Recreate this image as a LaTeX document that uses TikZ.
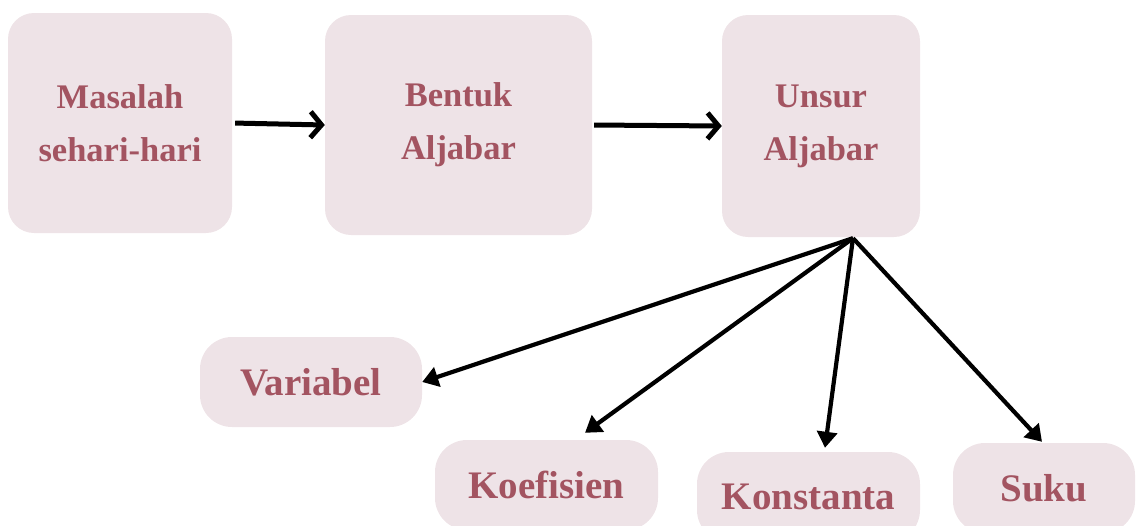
\documentclass[tikz,border=0pt]{standalone}
\usepackage{fontspec}
\setmainfont{Liberation Serif}
\usetikzlibrary{arrows.meta}
\definecolor{boxfill}{HTML}{EEE3E7}
\definecolor{boxtext}{HTML}{A35461}
\tikzset{
  bigbox/.style={fill=boxfill, draw=none, rounded corners=26pt, text=boxtext,
    font=\bfseries\fontsize{34.5}{53}\selectfont, align=center, inner sep=0pt},
  smallbox/.style={fill=boxfill, draw=none, rounded corners=32pt, text=boxtext,
    font=\bfseries\fontsize{39}{45}\selectfont, align=center, inner sep=0pt,
    minimum height=90pt},
  toparrow/.style={line width=5pt, -{Straight Barb[length=11pt,width=26pt,line width=5pt]}},
  fanarrow/.style={line width=4.2pt, -{Triangle[length=16pt,width=20pt]}}
}
\begin{document}
\begin{tikzpicture}[x=1pt,y=-1pt]
\useasboundingbox (0,0) rectangle (1138,525);
\clip (0,0) rectangle (1138,525);
\node[bigbox, minimum width=224pt, minimum height=220pt] (m) at (120,123) {Masalah\\sehari-hari};
\node[bigbox, minimum width=267pt, minimum height=220pt] (b) at (458.5,125) {Bentuk\\Aljabar};
\node[bigbox, minimum width=198pt, minimum height=222pt] (u) at (821,126) {\raisebox{-3pt}{Unsur}\\\raisebox{-3pt}{Aljabar}};
\node[smallbox, minimum width=222pt] (v) at (311,382) {Variabel};
\node[smallbox, minimum width=223pt] (k) at (546.5,485) {Koefisien};
\node[smallbox, minimum width=223pt] (ks) at (808.5,497) {Konstanta};
\node[smallbox, minimum width=182pt] (s) at (1044,488) {Suku};
\coordinate (hub) at ([xshift=32pt,yshift=-1pt]u.south);
\draw[toparrow, shorten <=3pt] (m.east) -- (b.west);
\draw[toparrow, shorten <=2pt] (b.east) -- (u.west);
\draw[fanarrow] (hub) -- (v.east);
\draw[fanarrow] (hub) -- ([xshift=38.5pt,yshift=7pt]k.north);
\draw[fanarrow] (hub) -- ([xshift=16.5pt,yshift=4pt]ks.north);
\draw[fanarrow] (hub) -- ([xshift=-2pt,yshift=1pt]s.north);
\end{tikzpicture}
\end{document}
